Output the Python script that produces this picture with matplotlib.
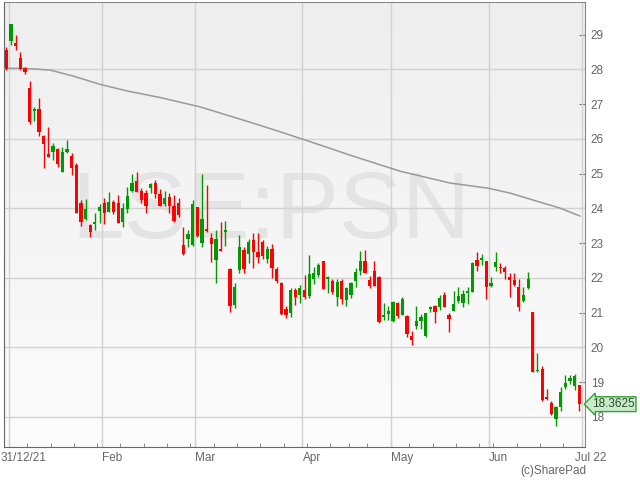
import numpy as np
import pandas as pd
import matplotlib
matplotlib.use('Agg')
import matplotlib.pyplot as plt
from matplotlib.colors import LinearSegmentedColormap

plt.rcParams['font.family'] = ['Liberation Sans', 'DejaVu Sans']

# daily prices, 31/12/21 .. 30/06/22
opens = [28.55, 28.82, 28.76, 28.32, 28.03, 27.45, 26.79, 26.85, 26.08, 25.56,
         25.63, 25.70, 25.05, 25.62, 25.50, 25.25, 24.15, 23.68, 23.51, 23.55,
         23.91, 24.16, 23.90, 24.19, 24.14, 23.61, 23.97, 24.51, 24.80, 24.50,
         24.45, 24.60, 24.74, 24.41, 24.12, 24.33, 24.07, 24.16, 22.94, 23.11,
         22.94, 24.03, 22.99, 23.40, 23.14, 22.51, 22.83, 23.33, 22.24, 21.22,
         22.22, 22.80, 22.68, 23.09, 22.75, 23.03, 22.53, 22.82, 22.24, 21.86,
         21.10, 20.99, 21.66, 21.51, 21.66, 21.47, 21.96, 22.08, 22.49, 21.96,
         21.92, 21.46, 21.92, 21.35, 21.50, 21.92, 22.21, 22.49, 21.93, 22.19,
         22.02, 20.88, 20.97, 20.77, 21.27, 20.93, 20.90, 20.33, 20.62, 20.77,
         20.33, 21.09, 21.19, 21.17, 21.50, 20.93, 21.05, 21.33, 21.28, 21.57,
         21.60, 22.51, 22.50, 22.49, 21.76, 22.32, 22.32, 22.27, 22.02, 21.93,
         21.74, 21.34, 21.70, 21.03, 19.32, 19.37, 18.57, 18.41, 17.95, 18.27,
         18.86, 19.02, 18.89, 18.91]
highs = [28.65, 29.32, 28.99, 28.51, 28.07, 27.66, 26.91, 27.17, 26.11, 26.33,
         25.89, 25.73, 25.77, 25.97, 25.60, 25.30, 24.24, 24.26, 23.55, 23.87,
         24.12, 24.29, 24.48, 24.24, 24.38, 24.14, 24.62, 24.99, 25.04, 24.58,
         24.53, 24.72, 24.81, 24.55, 24.51, 24.45, 24.38, 24.29, 23.45, 23.38,
         24.24, 24.05, 24.99, 24.67, 23.30, 23.38, 23.61, 23.64, 22.27, 21.84,
         23.24, 22.89, 23.11, 23.30, 23.30, 23.09, 22.91, 22.97, 22.32, 21.89,
         21.19, 21.70, 21.70, 21.79, 22.08, 22.66, 22.31, 22.43, 22.49, 22.04,
         21.96, 21.96, 21.98, 21.74, 21.89, 22.27, 22.76, 22.79, 22.05, 22.49,
         22.04, 21.28, 21.19, 21.32, 21.30, 21.45, 20.93, 20.48, 21.19, 20.96,
         21.00, 21.19, 21.22, 21.50, 21.60, 21.00, 21.63, 21.73, 21.66, 21.74,
         22.46, 22.75, 22.68, 22.49, 22.01, 22.75, 22.43, 22.34, 22.14, 22.14,
         21.96, 21.74, 22.16, 21.03, 19.83, 19.47, 18.79, 18.44, 18.30, 18.85,
         19.19, 19.21, 19.24, 18.91]
lows = [27.98, 28.70, 28.56, 27.98, 27.88, 26.42, 26.52, 26.08, 25.15, 25.48,
        25.39, 25.20, 25.05, 25.60, 24.96, 23.86, 23.49, 23.66, 23.18, 23.39,
        23.59, 23.55, 23.90, 23.84, 23.57, 23.45, 23.86, 24.48, 24.48, 24.16,
        23.87, 24.43, 24.30, 24.06, 24.06, 23.87, 23.61, 23.76, 22.66, 22.88,
        22.92, 23.18, 22.88, 23.33, 22.46, 21.84, 22.78, 22.91, 21.02, 21.12,
        22.13, 22.15, 22.43, 22.27, 22.42, 22.53, 22.43, 21.99, 21.84, 20.93,
        20.83, 20.88, 21.22, 21.27, 21.38, 21.41, 21.82, 22.03, 21.67, 21.57,
        21.53, 21.19, 21.25, 21.19, 21.41, 21.73, 22.08, 22.15, 21.70, 21.76,
        20.69, 20.79, 20.79, 20.74, 20.83, 20.93, 20.29, 20.07, 20.52, 20.52,
        20.31, 21.02, 20.69, 21.07, 21.15, 20.43, 21.05, 21.27, 21.15, 21.25,
        21.60, 22.20, 22.37, 21.38, 21.73, 22.20, 22.13, 21.96, 21.46, 21.76,
        21.05, 21.31, 21.67, 19.30, 19.30, 18.46, 18.48, 18.04, 17.74, 18.18,
        18.81, 18.93, 18.77, 18.18]
closes = [28.00, 29.30, 28.67, 28.00, 27.93, 26.49, 26.85, 26.20, 25.85, 25.48,
          25.79, 25.27, 25.62, 25.71, 25.17, 23.87, 23.61, 23.98, 23.32, 23.61,
          24.03, 23.87, 24.18, 23.90, 23.59, 24.00, 24.35, 24.72, 24.48, 24.24,
          24.07, 24.70, 24.41, 24.07, 24.29, 24.07, 23.63, 23.81, 22.70, 23.26,
          24.13, 23.20, 23.68, 23.36, 22.96, 23.11, 22.78, 23.38, 21.19, 21.74,
          22.89, 22.24, 23.04, 22.75, 22.61, 22.63, 22.82, 22.27, 21.91, 20.95,
          20.93, 21.66, 21.46, 21.70, 21.46, 22.12, 22.15, 22.37, 21.69, 22.03,
          21.59, 21.88, 21.39, 21.70, 21.86, 22.16, 22.49, 22.15, 21.76, 21.76,
          20.74, 20.92, 21.05, 21.31, 20.91, 21.39, 20.38, 20.21, 20.76, 20.88,
          21.00, 21.15, 21.02, 21.41, 21.15, 20.81, 21.25, 21.49, 21.52, 21.62,
          22.43, 22.34, 22.56, 21.74, 21.86, 22.46, 22.27, 22.18, 21.93, 21.79,
          21.17, 21.50, 21.96, 19.30, 19.36, 18.48, 18.50, 18.08, 18.28, 18.72,
          18.98, 19.12, 19.17, 18.3625]

# moving average line (read at a few candles)
ma_pos = [-0.5, 4, 9.4, 14.3, 20.1, 25.9, 33, 41.6, 52.3, 57.7, 65.2, 73.8,
          84.5, 95.2, 103.4, 108.1, 114.5, 118.8, 123.1]
ma_vals = [28.03, 28.03, 27.98, 27.81, 27.57, 27.38, 27.19, 26.92, 26.48, 26.25,
           25.92, 25.53, 25.07, 24.73, 24.58, 24.44, 24.18, 24.01, 23.78]

last_price = '18.3625'

holidays = pd.to_datetime(['2022-01-03', '2022-04-15', '2022-04-18',
                           '2022-05-02', '2022-06-02', '2022-06-03'])
days = pd.bdate_range('2021-12-31', '2022-06-30')
days = days[~days.isin(holidays)]

o = np.array(opens)
h = np.array(highs)
l = np.array(lows)
c = np.array(closes)
x = np.arange(len(c))

up = c >= o
cols = np.where(up, '#009a00', '#ff0000')

fig = plt.figure(figsize=(6.4, 4.8), dpi=100)
ax = fig.add_axes([4/640, 1-447/480, 581/640, 445/480])

# background gradient
cmap = LinearSegmentedColormap.from_list('bg', ['#fcfcfc', '#eeeeee'])
grad = np.linspace(0, 1, 256).reshape(-1, 1)
ax.imshow(grad, cmap=cmap, aspect='auto', extent=[0, 1, 0, 1],
          transform=ax.transAxes, origin='lower', zorder=0)

ax.text(0.46, 0.524, 'LSE:PSN', transform=ax.transAxes, fontsize=68,
        color='#e4e4e4', ha='center', va='center', zorder=1)

# month and week positions
month_pos = [0.6]
month_lab = ['31/12/21']
week_pos = []
for i in range(1, len(days)):
    if days[i].month != days[i-1].month and days[i-1].month != 12:
        month_pos.append(i - 0.5)
        month_lab.append(days[i].strftime('%b'))
    if days[i].weekday() < days[i-1].weekday():
        week_pos.append(i - 0.5)
month_pos.append(len(days) - 0.5)
month_lab.append('Jul 22')

for p in month_pos:
    ax.axvline(p, color='#d2d2d2', lw=1, zorder=2)
for v in range(18, 30, 2):
    ax.axhline(v, color='#d2d2d2', lw=1, zorder=2)

ax.plot(ma_pos, ma_vals, color='#9a9a9a', lw=1.1, zorder=3)

ax.vlines(x, l, h, colors=cols, lw=1, zorder=4)
body = np.maximum(np.abs(c - o), 0.03)
ax.bar(x, body, bottom=np.minimum(o, c), width=0.7, color=cols, zorder=5)

ax.set_xlim(-0.5, 124.2)
ax.set_ylim(17.13, 29.94)

ax.set_xticks(month_pos)
ax.set_xticklabels([])
ax.set_xticks(week_pos, minor=True)
ax.tick_params(axis='x', which='major', direction='in', length=6, color='#777777')
ax.tick_params(axis='x', which='minor', direction='in', length=3, color='#777777')

lab_x = [-1.3, 20.6, 40.6, 63.6, 82.6, 103.6, 122.0]
for px, lab in zip(lab_x, month_lab):
    ax.text(px, -0.012, lab, transform=ax.get_xaxis_transform(), ha='left', va='top',
            fontsize=8.5, color='#666666')

ax.yaxis.tick_right()
ax.set_yticks(range(18, 30))
ax.tick_params(axis='y', direction='in', length=4, color='#777777',
               labelsize=8.5, labelcolor='#666666', pad=4)

for s in ax.spines.values():
    s.set_color('#888888')
ax.spines['left'].set_color('#666666')
ax.spines['bottom'].set_color('#666666')

ax.text(1.012, closes[-1], last_price, transform=ax.get_yaxis_transform(),
        ha='left', va='center', fontsize=8.5, color='#2d4a2d',
        bbox=dict(boxstyle='larrow,pad=0.12', fc='#c8ecc8', ec='#3a9e3a', lw=1))

fig.text(586/640, 1-465/480, '(c)SharePad', ha='right', va='top',
         fontsize=8.5, color='#666666')

fig.savefig('out.png', dpi=100)
